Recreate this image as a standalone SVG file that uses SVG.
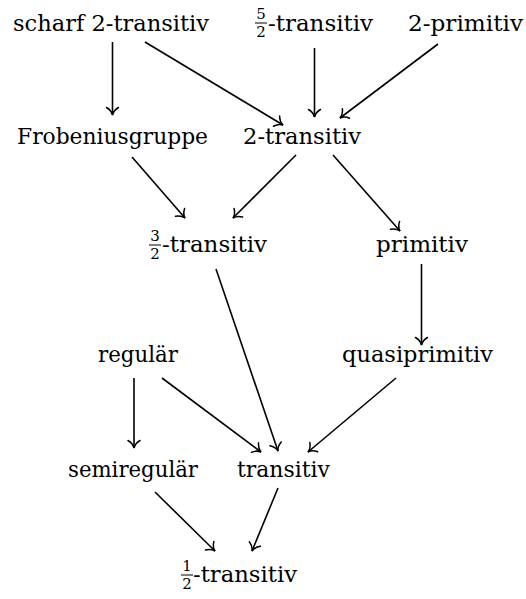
<svg xmlns="http://www.w3.org/2000/svg" width="526" height="599" viewBox="0 0 526 599">
<style>
text{font-family:"DejaVu Serif","Liberation Serif",serif;font-size:22.5px;fill:#000}
.f{font-size:15px;text-anchor:middle}
.bar{stroke:#000;stroke-width:1}
.e{stroke:#000;stroke-width:1.6;fill:none;marker-end:url(#ah)}
</style>
<defs>
<marker id="ah" markerUnits="userSpaceOnUse" orient="auto" markerWidth="14" markerHeight="14" refX="0" refY="0" viewBox="-9 -7 11 14" overflow="visible">
<path d="M-7.5,-6 C-5.5,-2.5 -2,-0.5 0,0 C-2,0.5 -5.5,2.5 -7.5,6" fill="none" stroke="#000" stroke-width="1.5" stroke-linecap="round"/>
</marker>
</defs>
<rect width="526" height="599" fill="#fff"/>
<g id="scharf"><text x="13" y="31" textLength="196" lengthAdjust="spacingAndGlyphs">scharf 2-transitiv</text></g>
<g id="fuenfhalb"><text class="f" x="261" y="19">5</text><line class="bar" x1="255" y1="23" x2="267" y2="23"/><text class="f" x="261" y="37">2</text><text x="268" y="31" textLength="105" lengthAdjust="spacingAndGlyphs">-transitiv</text></g>
<g id="zweiprimitiv"><text x="408" y="31" textLength="115" lengthAdjust="spacingAndGlyphs">2-primitiv</text></g>
<g id="frobenius"><text x="17" y="143.5" textLength="191" lengthAdjust="spacingAndGlyphs">Frobeniusgruppe</text></g>
<g id="zweitransitiv"><text x="243" y="143.5" textLength="118" lengthAdjust="spacingAndGlyphs">2-transitiv</text></g>
<g id="dreihalb"><text class="f" x="155" y="241">3</text><line class="bar" x1="149" y1="245" x2="161" y2="245"/><text class="f" x="155" y="259">2</text><text x="162" y="252" textLength="105" lengthAdjust="spacingAndGlyphs">-transitiv</text></g>
<g id="primitiv"><text x="376" y="252" textLength="92" lengthAdjust="spacingAndGlyphs">primitiv</text></g>
<g id="regulaer"><text x="98" y="362" textLength="80" lengthAdjust="spacingAndGlyphs">regulär</text></g>
<g id="quasiprimitiv"><text x="342" y="362" textLength="151" lengthAdjust="spacingAndGlyphs">quasiprimitiv</text></g>
<g id="semiregulaer"><text x="68" y="477" textLength="130" lengthAdjust="spacingAndGlyphs">semiregulär</text></g>
<g id="transitiv"><text x="237" y="477" textLength="93" lengthAdjust="spacingAndGlyphs">transitiv</text></g>
<g id="einhalb"><text class="f" x="187" y="571">1</text><line class="bar" x1="181" y1="575" x2="193" y2="575"/><text class="f" x="187" y="589">2</text><text x="193" y="582" textLength="104" lengthAdjust="spacingAndGlyphs">-transitiv</text></g>
<g id="connectors">
<line class="e" x1="112.5" y1="42" x2="112.5" y2="115"/>
<line class="e" x1="145" y1="42" x2="283" y2="125"/>
<line class="e" x1="314.5" y1="48" x2="314.5" y2="117"/>
<line class="e" x1="438" y1="44" x2="340" y2="118"/>
<line class="e" x1="132" y1="157" x2="185" y2="218"/>
<line class="e" x1="296" y1="155" x2="233" y2="218"/>
<line class="e" x1="333" y1="155" x2="400" y2="231"/>
<line class="e" x1="421.5" y1="264" x2="421.5" y2="345"/>
<line class="e" x1="216" y1="269" x2="278" y2="451"/>
<line class="e" x1="134" y1="378" x2="134" y2="448"/>
<line class="e" x1="162" y1="378" x2="261" y2="452"/>
<line class="e" x1="396" y1="378" x2="308" y2="452"/>
<line class="e" x1="155" y1="492" x2="215" y2="551"/>
<line class="e" x1="278" y1="488" x2="252" y2="551"/>
</g>
</svg>
